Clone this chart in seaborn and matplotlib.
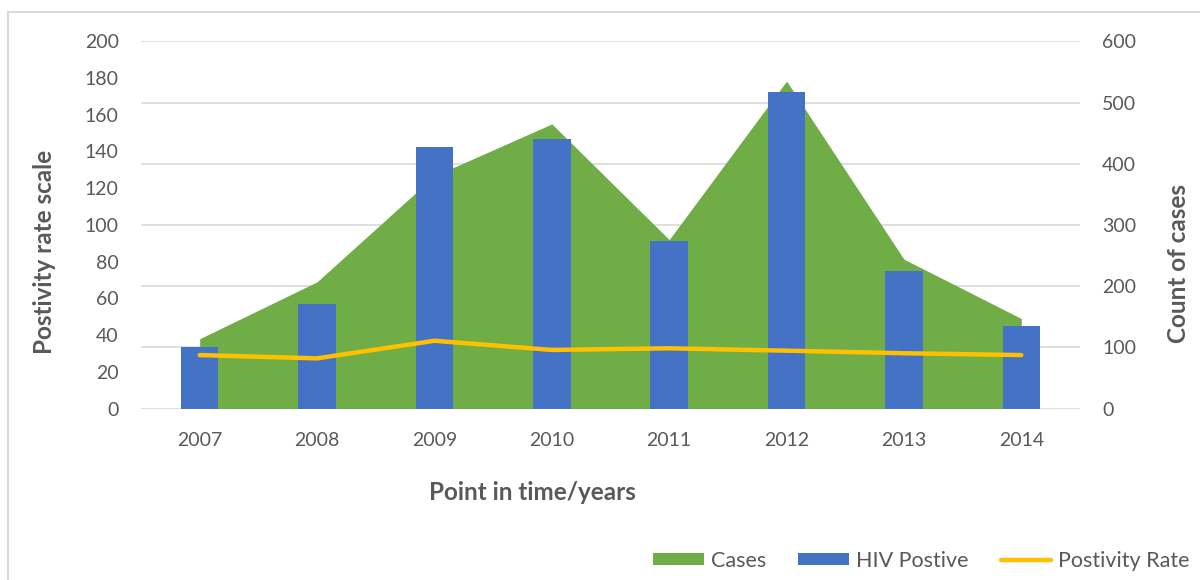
import numpy as np
import matplotlib
matplotlib.use("Agg")
import matplotlib.pyplot as plt
from matplotlib.lines import Line2D
from matplotlib.patches import Patch
import seaborn as sns

# Annual figures
years = ["2007", "2008", "2009", "2010", "2011", "2012", "2013", "2014"]
cases = [114, 207, 380, 465, 276, 535, 244, 147]
hiv_positive = [100, 171, 427, 440, 274, 517, 224, 134]
positivity_rate = [29.1, 27.3, 36.9, 31.9, 32.8, 31.5, 30.1, 29.1]

count_ticks = [0, 100, 200, 300, 400, 500, 600]
rate_ticks = [0, 20, 40, 60, 80, 100, 120, 140, 160, 180, 200]

GREEN = "#70AD47"
BLUE = "#4472C4"
YELLOW = "#FFC000"
GRID = "#D9D9D9"
TEXT = "#595959"

sns.set_style("white")
plt.rcParams["font.family"] = ["Lato", "DejaVu Sans"]

W, H = 1200, 580
fig = plt.figure(figsize=(W / 100, H / 100), dpi=100)
ax = fig.add_axes([141 / W, 1 - 408.5 / H, (1080 - 141) / W, (408.5 - 41.3) / H])

pos = np.arange(len(years))

# Cases as a filled area, HIV positive as bars (count scale)
ax.fill_between(pos, 0, cases, color=GREEN, linewidth=0, zorder=1)
sns.barplot(x=years, y=hiv_positive, color=BLUE, saturation=1, width=0.32,
            ax=ax, zorder=2, edgecolor="none", linewidth=0)
ax.set_ylim(0, 600)
ax.set_yticks(count_ticks)
ax.grid(axis="y", color=GRID, linewidth=1.2)
ax.grid(axis="x", visible=False)
ax.set_axisbelow(True)

# Positivity rate line on its own scale
ax2 = ax.twinx()
sns.lineplot(x=pos, y=positivity_rate, color=YELLOW, linewidth=3.2, ax=ax2,
             solid_capstyle="round", zorder=3)
ax2.set_ylim(0, 200)
ax2.set_yticks(rate_ticks)
ax2.grid(False)

# counts read on the right, rates on the left
ax.yaxis.tick_right()
ax2.yaxis.tick_left()

ax.set_xlim(-0.5, len(years) - 0.5)
for a in (ax, ax2):
    for s in a.spines.values():
        s.set_visible(False)
    a.set_xlabel("")
    a.set_ylabel("")
    a.tick_params(length=0, labelsize=14, labelcolor=TEXT)

ax.tick_params(axis="x", pad=17)
ax.tick_params(axis="y", pad=16)
ax2.tick_params(axis="y", pad=16)

# Axis titles
fig.text(45 / W, 1 - 252 / H, "Postivity rate scale", rotation=90, ha="center",
         va="center", fontsize=17.5, fontweight="bold", color=TEXT)
fig.text(1178 / W, 1 - 263 / H, "Count of cases", rotation=90, ha="center",
         va="center", fontsize=17.5, fontweight="bold", color=TEXT)
fig.text(532 / W, 1 - 492 / H, "Point in time/years", ha="center", va="center",
         fontsize=17.5, fontweight="bold", color=TEXT)

# Legend
handles = [
    Patch(facecolor=GREEN, edgecolor="none", label="Cases"),
    Patch(facecolor=BLUE, edgecolor="none", label="HIV Postive"),
    Line2D([0], [0], color=YELLOW, linewidth=3.2, label="Postivity Rate"),
]
leg = fig.legend(handles=handles, loc="center right",
                 bbox_to_anchor=(1190 / W, 1 - 561 / H), ncol=3, frameon=False,
                 fontsize=15.5, handlelength=2.35, handleheight=0.5,
                 handletextpad=0.33, columnspacing=1.5, borderpad=0,
                 borderaxespad=0)
for t in leg.get_texts():
    t.set_color(TEXT)

# Chart frame
fig.add_artist(Line2D([8 / W, 8 / W], [0, 1 - 12 / H], color=GRID, linewidth=1.5,
                      transform=fig.transFigure))
fig.add_artist(Line2D([8 / W, 1], [1 - 12 / H, 1 - 12 / H], color=GRID,
                      linewidth=1.5, transform=fig.transFigure))

fig.savefig("out.png", dpi=100)
